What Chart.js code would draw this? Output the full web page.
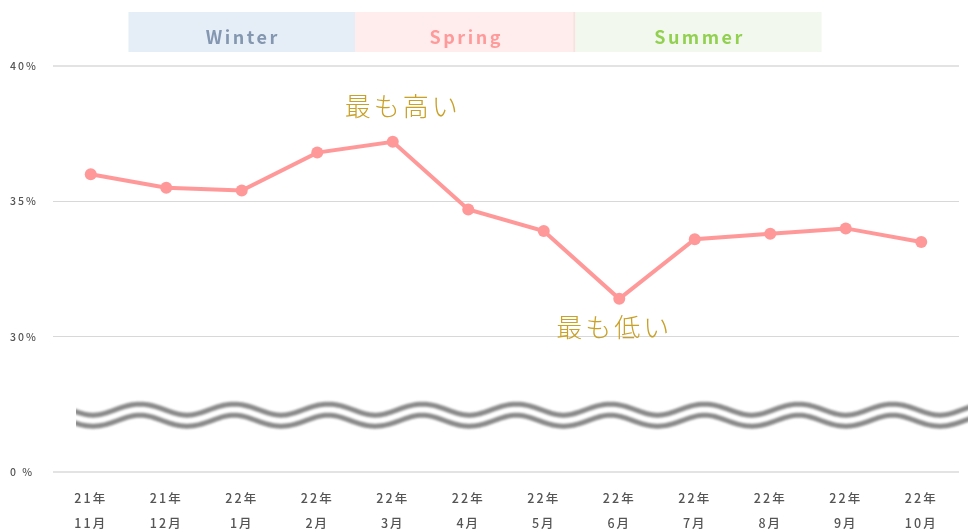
<!DOCTYPE html>
<html>
<head>
<meta charset="utf-8">
<title>rates</title>
<script src="https://cdn.jsdelivr.net/npm/chart.js@4.4.1/dist/chart.umd.min.js"></script>
<style>
  html, body { margin: 0; padding: 0; background: #fff; }
  #wrap { width: 968px; height: 531px; position: relative; }
</style>
</head>
<body>
<div id="wrap"><canvas id="chart"></canvas></div>
<script>
// --------------------------------
// || Data
// --------------------------------

const years = ['21年', '21年', '22年', '22年', '22年', '22年', '22年', '22年', '22年', '22年', '22年', '22年'];
const months = ['11月', '12月', '1月', '2月', '3月', '4月', '5月', '6月', '7月', '8月', '9月', '10月'];
const rates = [36.0, 35.5, 35.4, 36.8, 37.2, 34.7, 33.9, 31.4, 33.6, 33.8, 34.0, 33.5];

// the bottom tick is the broken axis, it stands for 0 %
const yTickValues = [25, 30, 35, 40];
const yTickLabels = ['0 %', '30%', '35%', '40%'];

const seasons = ['Winter', 'Spring', 'Summer'];
const seasonSpans = [[0.5, 3.5], [3.5, 6.42], [6.42, 9.68]];

const highText = '最も高い';
const lowText = '最も低い';

// --------------------------------
// || Styles
// --------------------------------

const lineColor = '#ff9999';
const noteColor = '#c9a028';
const seasonBg = ['#e5edf7', '#ffecec', '#f3f8ef'];
const seasonFg = ['#8497b0', '#ff9a9a', '#92d050'];
const jpFont = '"Noto Sans CJK JP", "Noto Sans", sans-serif';

// --------------------------------
// || Plugins
// --------------------------------

const spacing = {
    id: 'spacing',
    beforeDraw(chart) {
        chart.ctx.letterSpacing = '2px';
    }
};

const seasonBands = {
    id: 'seasonBands',
    beforeDraw(chart) {
        const {ctx, chartArea, scales: {x}} = chart;
        const top = chartArea.top - 54;
        const h = 40;
        ctx.save();
        seasons.forEach((name, i) => {
            const x1 = x.getPixelForValue(seasonSpans[i][0]);
            const x2 = x.getPixelForValue(seasonSpans[i][1]);
            ctx.fillStyle = seasonBg[i];
            ctx.fillRect(x1, top, x2 - x1, h);
            if (i === 1) {
                ctx.fillStyle = '#f6e3df';
                ctx.fillRect(x2 - 2, top, 2, h);
            }
            ctx.fillStyle = seasonFg[i];
            ctx.font = 'bold 18px ' + jpFont;
            ctx.letterSpacing = '2.5px';
            ctx.textAlign = 'center';
            ctx.textBaseline = 'middle';
            ctx.fillText(name, (x1 + x2) / 2 + 1, top + h / 2 + 5);
        });
        ctx.restore();
    }
};

const breakWave = {
    id: 'breakWave',
    beforeDatasetsDraw(chart) {
        const {ctx, chartArea, scales: {y}} = chart;
        const mid = y.getPixelForValue(27.1);
        const start = chartArea.left + 23;
        const end = chart.width + 5;
        const period = 94.1;
        const peak = chartArea.left + 87;
        const amp = 5.5;
        ctx.save();
        ctx.beginPath();
        ctx.rect(start, mid - 30, end - start, 60);
        ctx.clip();
        ctx.beginPath();
        for (let px = start - 10; px <= end; px += 1) {
            const py = mid - amp * Math.cos(2 * Math.PI * (px - peak) / period);
            px === start - 10 ? ctx.moveTo(px, py) : ctx.lineTo(px, py);
        }
        ctx.filter = 'blur(0.9px)';
        ctx.strokeStyle = '#8a8a8a';
        ctx.lineWidth = 16;
        ctx.stroke();
        ctx.strokeStyle = '#ffffff';
        ctx.lineWidth = 6;
        ctx.stroke();
        ctx.restore();
    }
};

const peakNotes = {
    id: 'peakNotes',
    afterDatasetsDraw(chart) {
        const {ctx} = chart;
        const meta = chart.getDatasetMeta(0);
        const hi = rates.indexOf(Math.max(...rates));
        const lo = rates.indexOf(Math.min(...rates));
        ctx.save();
        ctx.fillStyle = noteColor;
        ctx.font = '300 26px ' + jpFont;
        ctx.letterSpacing = '3px';
        ctx.textAlign = 'left';
        ctx.textBaseline = 'middle';
        ctx.fillText(highText, meta.data[hi].x - 48, meta.data[hi].y - 36);
        ctx.fillText(lowText, meta.data[lo].x - 63, meta.data[lo].y + 28);
        ctx.restore();
    }
};

// --------------------------------
// || Chart
// --------------------------------

const labels = years.map((yr, i) => [yr, months[i]]);

new Chart(document.getElementById('chart'), {
    type: 'line',
    data: {
        labels: labels,
        datasets: [{
            data: rates,
            borderColor: lineColor,
            backgroundColor: lineColor,
            borderWidth: 4,
            pointRadius: 6,
            pointHoverRadius: 6,
            pointBorderWidth: 0,
            pointBackgroundColor: lineColor,
            tension: 0
        }]
    },
    options: {
        responsive: true,
        maintainAspectRatio: false,
        animation: false,
        layout: {
            padding: {top: 66, left: 10, right: 9, bottom: 0}
        },
        plugins: {
            legend: {display: false},
            tooltip: {enabled: false}
        },
        scales: {
            x: {
                offset: true,
                grid: {display: false, drawTicks: false},
                border: {display: false},
                afterFit: scale => { scale.height = 59; },
                ticks: {
                    padding: 14,
                    color: '#555',
                    maxRotation: 0,
                    autoSkip: false,
                    font: {family: jpFont, size: 12.5, weight: 500, lineHeight: 2}
                }
            },
            y: {
                min: 25,
                max: 40,
                afterFit: scale => { scale.width = 43; },
                afterBuildTicks: scale => {
                    scale.ticks = yTickValues.map(v => ({value: v}));
                },
                border: {display: false},
                grid: {
                    drawTicks: false,
                    color: c => (c.tick && (c.tick.value === 40 || c.tick.value === 25)) ? '#e3e3e3' : '#d8d8d8',
                    lineWidth: c => (c.tick && (c.tick.value === 40 || c.tick.value === 25)) ? 2 : 1
                },
                ticks: {
                    crossAlign: 'far',
                    padding: 8,
                    color: '#555',
                    font: {family: jpFont, size: 10.5, weight: 500},
                    callback: v => yTickLabels[yTickValues.indexOf(v)]
                }
            }
        }
    },
    plugins: [spacing, seasonBands, breakWave, peakNotes]
});
</script>
</body>
</html>
